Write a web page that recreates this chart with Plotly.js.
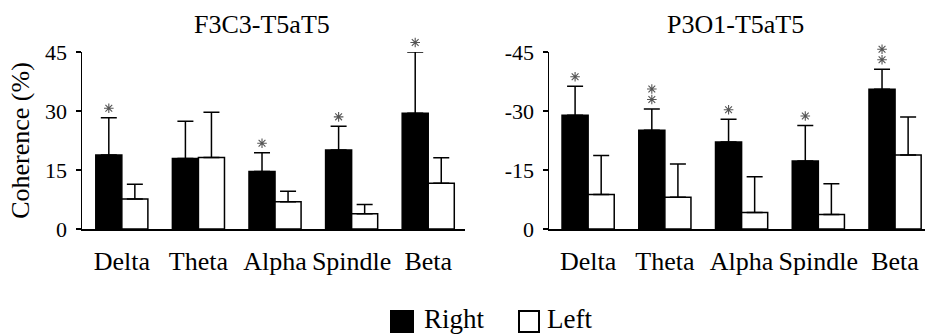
<!DOCTYPE html>
<html>
<head>
<meta charset="utf-8">
<script src="https://cdn.plot.ly/plotly-3.0.1.min.js"></script>
<style>html,body{margin:0;padding:0;background:#fff;}#chart{width:925px;height:335px;}</style>
</head>
<body>
<div id="chart"></div>
<script>
// ---- data ----
const bands = ['Delta', 'Theta', 'Alpha', 'Spindle', 'Beta'];
const seriesNames = ['Right', 'Left'];

// Panel 1: F3C3-T5aT5 (coherence %)
const f3Right = [18.8, 17.9, 14.6, 20.1, 29.4];
const f3RightErr = [9.5, 9.5, 4.8, 6.0, 15.6];
const f3Left = [7.6, 18.2, 6.9, 3.9, 11.6];
const f3LeftErr = [3.8, 11.5, 2.7, 2.3, 6.5];
const f3RightSig = [1, 0, 1, 1, 1];   // number of asterisks over Right bars

// Panel 2: P3O1-T5aT5 (coherence %, negative)
const p3Right = [-28.9, -25.1, -22.1, -17.3, -35.5];
const p3RightErr = [7.4, 5.4, 5.8, 9.0, 5.1];
const p3Left = [-8.8, -8.1, -4.2, -3.7, -18.8];
const p3LeftErr = [9.9, 8.4, 9.1, 7.8, 9.7];
const p3RightSig = [1, 2, 1, 1, 2];

const yTicks1 = [0, 15, 30, 45];
const yTickText1 = ['0', '15', '30', '45'];
const yTicks2 = [0, -15, -30, -45];
const yTickText2 = ['0', '-15', '-30', '-45'];

const titles = ['F3C3-T5aT5', 'P3O1-T5aT5'];
const yTitle = 'Coherence (%)';

// ---- styling ----
const FONT = 'Liberation Serif';
const BARGAP = 0.32;
const W = 925, H = 335;
const PLOT_TOP = 52, PLOT_ZERO = 229, STAR_TOP = 20;
const YMAX = 45;
const unitsPerPx = YMAX / (PLOT_ZERO - PLOT_TOP);
const YMAX_STAR = unitsPerPx * (PLOT_ZERO - STAR_TOP);
const zeros = bands.map(() => 0);
const px = v => v / W;
const py = v => (H - v) / H;
const xRange1 = [-0.52, 4.48], xRange2 = [-0.51, 4.39];
const xDom1 = [px(82), px(465)], xDom2 = [px(549), 1];

function errUp(arr, negative) {
  return negative
    ? {type: 'data', symmetric: false, array: zeros, arrayminus: arr, color: '#000', thickness: 1.5, width: 8}
    : {type: 'data', symmetric: false, array: arr, arrayminus: zeros, color: '#000', thickness: 1.5, width: 8};
}

const fills = ['#000', '#fff'];
const traces = [
  {type: 'bar', name: seriesNames[0], x: bands, y: f3Right, xaxis: 'x', yaxis: 'y',
   marker: {color: fills[0], line: {color: '#000', width: 1.5}}, error_y: errUp(f3RightErr, false)},
  {type: 'bar', name: seriesNames[1], x: bands, y: f3Left, xaxis: 'x', yaxis: 'y',
   marker: {color: fills[1], line: {color: '#000', width: 1.5}}, error_y: errUp(f3LeftErr, false)},
  {type: 'bar', name: seriesNames[0], x: bands, y: p3Right, xaxis: 'x2', yaxis: 'y2',
   marker: {color: fills[0], line: {color: '#000', width: 1.5}}, error_y: errUp(p3RightErr, true)},
  {type: 'bar', name: seriesNames[1], x: bands, y: p3Left, xaxis: 'x2', yaxis: 'y2',
   marker: {color: fills[1], line: {color: '#000', width: 1.5}}, error_y: errUp(p3LeftErr, true)}
];

// significance asterisks above the Right bars' error bars
// (drawn on invisible companion axes with the same scale but a taller domain)
const rightOffset = -(1 - BARGAP) / 4;
function starTrace(vals, errs, sig, xaxis, yaxis, sign) {
  const xs = [], ys = [];
  vals.forEach((v, i) => {
    for (let k = 0; k < sig[i]; k++) {
      xs.push(i + rightOffset);
      ys.push(v + sign * (errs[i] + (9.5 + 10.5 * k) * unitsPerPx));
    }
  });
  return {type: 'scatter', mode: 'markers', x: xs, y: ys, xaxis: xaxis, yaxis: yaxis, cliponaxis: false,
    marker: {symbol: 'asterisk-open', size: 8, color: '#555', line: {color: '#555', width: 1.1}},
    showlegend: false, hoverinfo: 'skip'};
}
traces.push(starTrace(f3Right, f3RightErr, f3RightSig, 'x3', 'y3', 1));
traces.push(starTrace(p3Right, p3RightErr, p3RightSig, 'x4', 'y4', -1));

const annotations = [];
// subplot titles
annotations.push({xref: 'paper', yref: 'paper', x: px(262), y: py(25), text: titles[0],
  showarrow: false, xanchor: 'center', yanchor: 'middle', font: {family: FONT, size: 26, color: '#000'}});
annotations.push({xref: 'paper', yref: 'paper', x: px(735), y: py(25), text: titles[1],
  showarrow: false, xanchor: 'center', yanchor: 'middle', font: {family: FONT, size: 26, color: '#000'}});

// legend (large square keys as in the reference)
const legendKeys = [{x0: 391, x1: 413, text: 422}, {x0: 519, x1: 539, text: 545}];
const shapes = [];
legendKeys.forEach((k, i) => {
  shapes.push({type: 'rect', xref: 'paper', yref: 'paper', x0: px(k.x0), x1: px(k.x1), y0: py(332), y1: py(311),
    fillcolor: fills[i], line: {color: '#000', width: 2}});
  annotations.push({xref: 'paper', yref: 'paper', x: px(k.text), y: py(319), text: seriesNames[i],
    showarrow: false, xanchor: 'left', yanchor: 'middle', font: {family: FONT, size: 27, color: '#000'}});
});

const yDomain = [py(PLOT_ZERO), py(PLOT_TOP)];
const yDomainStar = [py(PLOT_ZERO), py(STAR_TOP)];
const xCommon = {
  type: 'category', showline: true, linecolor: '#000', linewidth: 1.5, ticks: '', showgrid: false,
  zeroline: false, tickfont: {family: FONT, size: 26, color: '#000'}, ticklabelstandoff: 8, fixedrange: true
};
const yCommon = {
  showline: true, linecolor: '#000', linewidth: 1.5, ticks: 'outside', ticklen: 5, tickwidth: 1.5,
  tickcolor: '#000', showgrid: false, zeroline: false, tickmode: 'array',
  tickfont: {family: FONT, size: 22, color: '#000'}, ticklabelstandoff: 4, domain: yDomain, fixedrange: true
};
const hidden = {type: 'linear', visible: false, showgrid: false, zeroline: false, fixedrange: true};

const layout = {
  width: W, height: H,
  margin: {l: 0, r: 0, t: 0, b: 0},
  paper_bgcolor: '#fff', plot_bgcolor: 'rgba(0,0,0,0)',
  font: {family: FONT, color: '#000'},
  barmode: 'group', bargap: BARGAP, bargroupgap: 0,
  showlegend: false,
  xaxis: Object.assign({}, xCommon, {domain: xDom1, range: xRange1, anchor: 'y'}),
  xaxis2: Object.assign({}, xCommon, {domain: xDom2, range: xRange2, anchor: 'y2'}),
  xaxis3: Object.assign({}, hidden, {domain: xDom1, range: xRange1, anchor: 'y3'}),
  xaxis4: Object.assign({}, hidden, {domain: xDom2, range: xRange2, anchor: 'y4'}),
  yaxis: Object.assign({}, yCommon, {range: [0, YMAX], tickvals: yTicks1, ticktext: yTickText1, anchor: 'x',
    title: {text: yTitle, font: {family: FONT, size: 26, color: '#000'}, standoff: 8}}),
  yaxis2: Object.assign({}, yCommon, {range: [0, -YMAX], tickvals: yTicks2, ticktext: yTickText2, anchor: 'x2'}),
  yaxis3: Object.assign({}, hidden, {domain: yDomainStar, range: [0, YMAX_STAR], anchor: 'x3'}),
  yaxis4: Object.assign({}, hidden, {domain: yDomainStar, range: [0, -YMAX_STAR], anchor: 'x4'}),
  shapes: shapes,
  annotations: annotations
};

Plotly.newPlot('chart', traces, layout, {staticPlot: true, displayModeBar: false});
</script>
</body>
</html>
